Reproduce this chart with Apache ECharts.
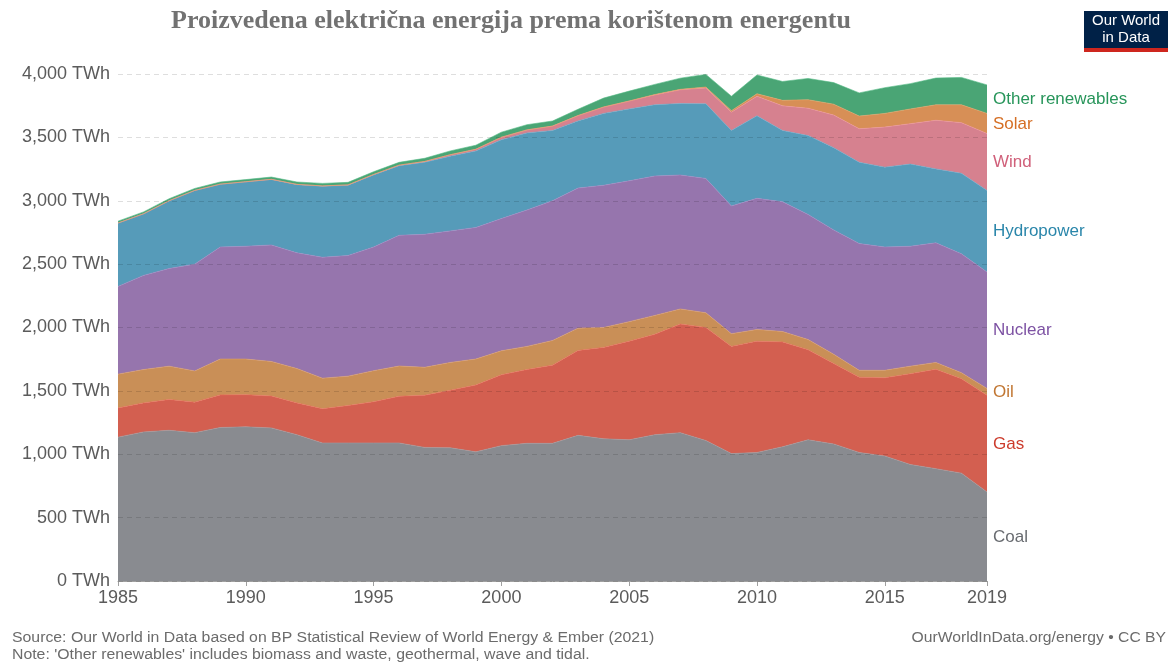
<!DOCTYPE html>
<html>
<head>
<meta charset="utf-8">
<script src="https://cdn.jsdelivr.net/npm/echarts@6/dist/echarts.min.js"></script>
<style>
  html, body { margin: 0; padding: 0; background: #fff; }
  #chart { width: 1168px; height: 662px; }
</style>
</head>
<body>
<div id="chart"></div>
<script>
// podaci (TWh), ocitano sa slike
const years = ['1985','1986','1987','1988','1989','1990','1991','1992','1993','1994','1995','1996','1997','1998','1999','2000','2001','2002','2003','2004','2005','2006','2007','2008','2009','2010','2011','2012','2013','2014','2015','2016','2017','2018','2019'];
const coal = [1135,1176,1189,1170,1211,1216,1208,1154,1089,1089,1089,1089,1054,1051,1019,1068,1086,1086,1149,1122,1114,1154,1170,1108,1005,1014,1059,1114,1081,1014,986,919,886,851,703];
const gas = [230,229,243,241,257,254,251,251,270,295,325,368,411,454,527,559,582,617,670,721,778,792,857,892,846,878,827,710,635,594,617,716,784,744,762];
const oil = [267,263,263,246,283,281,273,271,241,232,245,239,221,219,205,189,183,194,176,157,154,149,119,116,100,92,82,81,73,54,59,60,54,48,54];
const nuclear = [692,743,770,843,884,890,919,913,954,952,976,1031,1049,1038,1038,1043,1076,1103,1105,1122,1111,1100,1057,1060,1008,1035,1024,987,981,1000,973,946,944,938,919];
const hydro = [500,486,535,581,495,508,517,538,560,554,568,549,568,589,603,622,608,554,530,567,567,562,564,589,595,651,562,622,649,641,630,648,583,635,643];
const wind = [0,0,0,0,1,1,1,2,3,3,4,5,7,12,14,20,24,35,42,50,62,78,108,125,145,154,195,216,257,265,316,319,384,400,449];
const solar = [0,0,0,0,0,0,0,0,0,0,0,0,0,0,0,0,0,0,0,1,1,3,4,7,12,20,43,67,86,100,108,116,122,141,159];
const other = [15,15,16,16,17,17,18,19,20,20,22,22,25,30,32,40,41,40,50,70,78,80,88,100,114,148,149,168,170,183,203,200,211,216,225];

const seriesNames = ['Coal', 'Gas', 'Oil', 'Nuclear', 'Hydropower', 'Wind', 'Solar', 'Other renewables'];
const seriesData = [coal, gas, oil, nuclear, hydro, wind, solar, other];
const fillColors = ['#898b90', '#d35f50', '#c98f57', '#9675ad', '#569bb9', '#d6818f', '#d78f56', '#4aa575'];
const labelColors = ['#686b70', '#cc3b2c', '#c17632', '#7d52a3', '#2a86aa', '#d0607a', '#d56f25', '#27955a'];

const FONT = '"Liberation Sans", Arial, sans-serif';

let chart = echarts.init(document.getElementById('chart'));

let series = seriesNames.map(function (name, i) {
    return {
        name: name,
        type: 'line',
        stack: 'total',
        data: seriesData[i],
        symbol: 'none',
        smooth: false,
        lineStyle: { width: 0.6, color: echarts.color.lift(fillColors[i], -0.12) },
        areaStyle: { color: fillColors[i], opacity: 1 },
        itemStyle: { color: fillColors[i] },
        z: 2
    };
});

let option = {
    animation: false,
    backgroundColor: '#fff',
    grid: { left: 118, right: 181, top: 74, bottom: 81 },
    xAxis: {
        type: 'category',
        data: years,
        boundaryGap: false,
        axisLine: { lineStyle: { color: '#a0a0a0' } },
        axisTick: {
            length: 5,
            lineStyle: { color: '#a0a0a0' },
            interval: function (idx, val) { return val % 5 === 0 || val === '2019'; }
        },
        axisLabel: {
            color: '#5b5b5b',
            fontSize: 18,
            fontFamily: FONT,
            margin: 8,
            interval: function (idx, val) { return val % 5 === 0 || val === '2019'; }
        }
    },
    yAxis: {
        type: 'value',
        min: 0,
        max: 4000,
        interval: 500,
        z: 5,
        axisLine: { show: false },
        axisTick: { show: false },
        axisLabel: {
            color: '#5b5b5b',
            fontSize: 18,
            fontFamily: FONT,
            margin: 8,
            formatter: function (v) { return v.toLocaleString('en-US') + ' TWh'; }
        },
        splitLine: { lineStyle: { color: 'rgba(0,0,0,0.13)', type: [5, 4], width: 1 } }
    },
    series: series
};
chart.setOption(option);

// oznake serija desno, na sredini sloja za 2019.
let last = years.length - 1;
let cum = 0;
let labels = [];
seriesData.forEach(function (arr, i) {
    let mid = cum + arr[last] / 2;
    cum += arr[last];
    let p = chart.convertToPixel({ gridIndex: 0 }, [last, mid]);
    labels.push({
        type: 'text',
        left: p[0] + 6,
        top: p[1] - 8,
        style: { text: seriesNames[i], fill: labelColors[i], fontSize: 17, fontFamily: FONT }
    });
});

chart.setOption({
    graphic: labels.concat([
        {
            type: 'text',
            x: 511,
            y: 8,
            style: {
                text: 'Proizvedena električna energija prema korištenom energentu',
                fill: '#727272',
                fontSize: 26,
                fontWeight: 'bold',
                fontFamily: '"Liberation Serif", "Times New Roman", serif',
                align: 'center'
            }
        },
        // logo
        { type: 'rect', shape: { x: 1084, y: 11, width: 84, height: 37 }, style: { fill: '#002147' } },
        { type: 'rect', shape: { x: 1084, y: 48, width: 84, height: 4 }, style: { fill: '#ce261e' } },
        {
            type: 'text', x: 1126, y: 13,
            style: { text: 'Our World', fill: '#fff', fontSize: 15, fontFamily: FONT, align: 'center' }
        },
        {
            type: 'text', x: 1126, y: 30,
            style: { text: 'in Data', fill: '#fff', fontSize: 15, fontFamily: FONT, align: 'center' }
        },
        // podnozje
        {
            type: 'text', x: 12, y: 631, scaleX: 1.13,
            style: { text: 'Source: Our World in Data based on BP Statistical Review of World Energy & Ember (2021)', fill: '#6b6b6b', fontSize: 14, fontFamily: FONT }
        },
        {
            type: 'text', x: 12, y: 648, scaleX: 1.13,
            style: { text: "Note: 'Other renewables' includes biomass and waste, geothermal, wave and tidal.", fill: '#6b6b6b', fontSize: 14, fontFamily: FONT }
        },
        {
            type: 'text', x: 1166, y: 631, scaleX: 1.12,
            style: { text: 'OurWorldInData.org/energy • CC BY', fill: '#6b6b6b', fontSize: 14, fontFamily: FONT, align: 'right' }
        }
    ])
});
</script>
</body>
</html>
